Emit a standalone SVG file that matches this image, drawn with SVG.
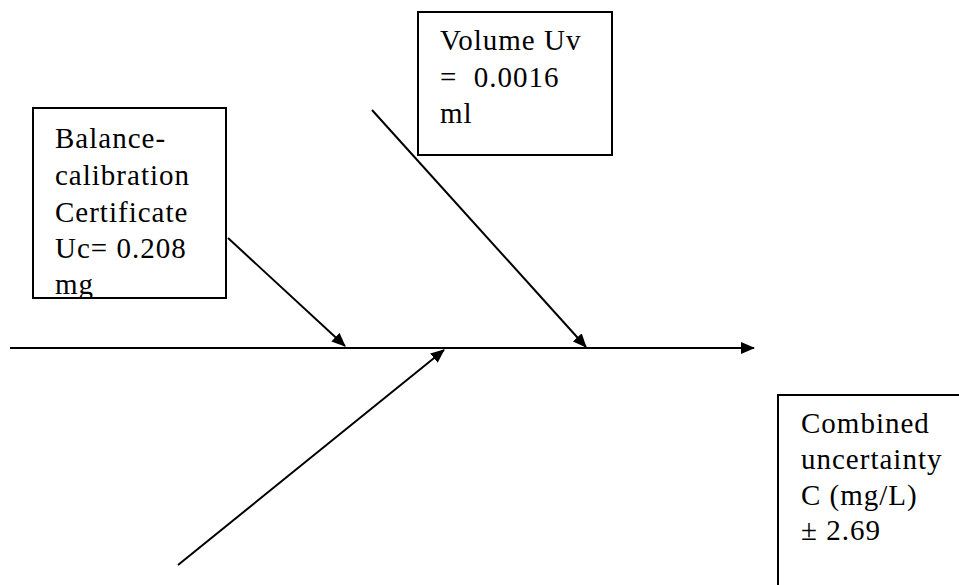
<svg xmlns="http://www.w3.org/2000/svg" width="959" height="585" viewBox="0 0 959 585">
<style>
.box{fill:#fff;stroke:#000;stroke-width:2}
.t{font-family:"Liberation Serif","Times New Roman",serif;font-size:29px;letter-spacing:1px;fill:#000}
.ln{stroke:#000;stroke-width:2;fill:none;marker-end:url(#ah)}
</style>
<defs>
<marker id="ah" markerWidth="14" markerHeight="12" refX="13" refY="6" orient="auto" markerUnits="userSpaceOnUse">
<path d="M0,0 L14,6 L0,12 Z" fill="#000"/>
</marker>
<clipPath id="c1"><rect x="33" y="108" width="193" height="189"/></clipPath>
</defs>
<rect width="959" height="585" fill="#fff"/>
<g id="connectors">
<line class="ln" x1="10" y1="348" x2="754" y2="348"/>
<line class="ln" x1="228" y1="238" x2="345" y2="346"/>
<line class="ln" x1="372" y1="110" x2="586" y2="347"/>
<line class="ln" x1="178" y1="565" x2="444" y2="350"/>
</g>
<g id="balance">
<rect class="box" x="33" y="108" width="193" height="190"/>
<g clip-path="url(#c1)">
<text class="t" x="55" y="148">Balance-</text>
<text class="t" x="55" y="185">calibration</text>
<text class="t" x="55" y="222">Certificate</text>
<text class="t" x="55" y="258">Uc= 0.208</text>
<text class="t" x="55" y="294">mg</text>
</g>
</g>
<g id="volume">
<rect class="box" x="418" y="12" width="194" height="143"/>
<text class="t" x="440" y="50">Volume Uv</text>
<text class="t" x="440" y="87">=&#160; 0.0016</text>
<text class="t" x="440" y="123">ml</text>
</g>
<g id="combined">
<rect class="box" x="778" y="395" width="200" height="220"/>
<text class="t" x="801" y="433">Combined</text>
<text class="t" x="801" y="469">uncertainty</text>
<text class="t" x="801" y="505">C (mg/L)</text>
<text class="t" x="801" y="540">± 2.69</text>
</g>
</svg>
